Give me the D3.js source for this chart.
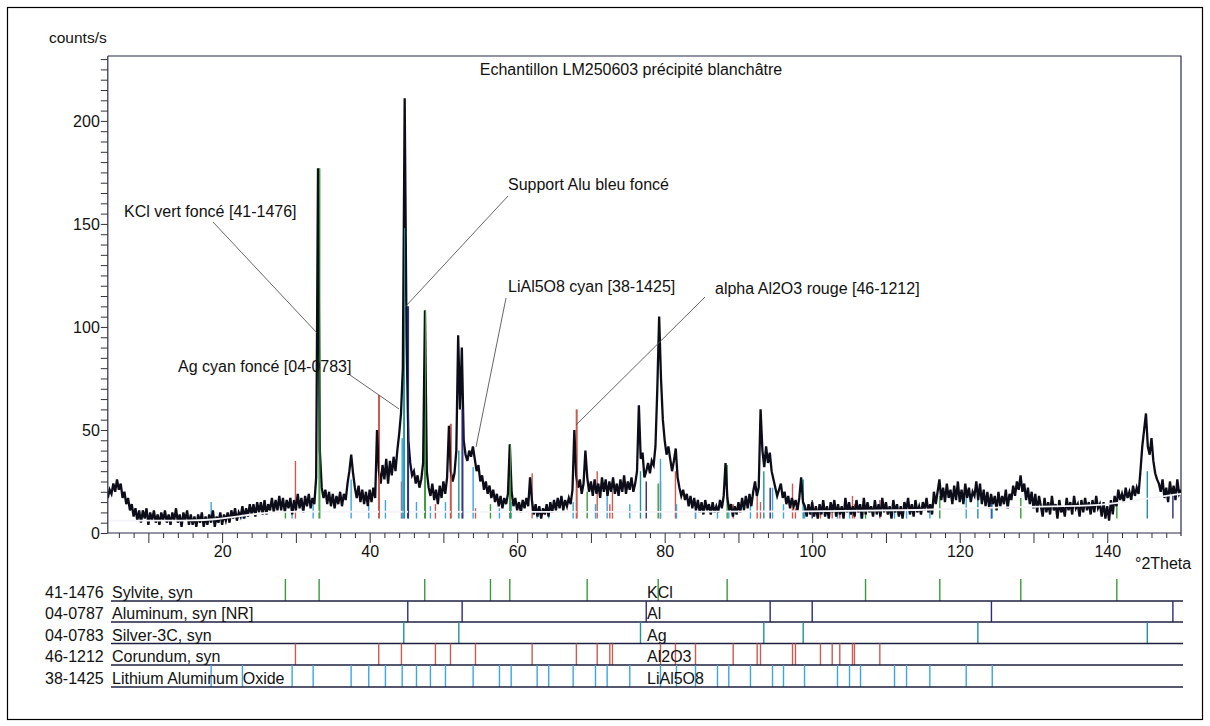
<!DOCTYPE html>
<html>
<head>
<meta charset="utf-8">
<script src="https://cdn.jsdelivr.net/npm/d3@7/dist/d3.min.js"></script>
<style>
  html, body { margin: 0; padding: 0; background: #fff; }
  svg text { font-family: "Liberation Sans", Arial, sans-serif; fill: #111; }
</style>
</head>
<body>
<svg id="chart" width="1210" height="726"></svg>
<script>
// ---------------- DATA ----------------
const chartTitle = "Echantillon LM250603 précipité blanchâtre";
const yTitle = "counts/s";
const xTitle = "°2Theta";

// measured trace: counts/s every 0.25 °2Theta starting at 4.5
const traceStart = 4.5;
const traceStep = 0.25;
const counts = [
  17, 21,                 // 4.5
  19, 24, 20, 26,         // 5
  21, 24, 17, 20,         // 6
  14, 17, 11, 14,         // 7
  8, 12, 6, 11,           // 8
  5, 11, 7, 12,           // 9
  4, 10, 6, 11,           // 10
  5, 9, 4, 10,            // 11
  6, 11, 5, 9,            // 12
  4, 10, 6, 12,           // 13
  5, 9, 3, 10,            // 14
  6, 11, 4, 9,            // 15
  4, 8, 3, 9,             // 16
  5, 10, 3, 8,            // 17
  4, 9, 5, 11,            // 18
  3, 8, 5, 10,            // 19
  4, 9, 6, 10,            // 20
  5, 11, 7, 12,           // 21
  6, 10, 8, 13,           // 22
  7, 12, 8, 14,           // 23
  9, 14, 8, 15,           // 24
  10, 15, 9, 16,          // 25
  9, 14, 11, 17,          // 26
  10, 16, 11, 18,         // 27
  11, 17, 10, 16,         // 28
  12, 17, 9, 16,          // 29
  11, 19, 12, 17,         // 30
  10, 18, 13, 19,         // 31
  12, 17, 14, 27,         // 32
  177, 40, 22, 17,        // 33
  21, 14, 20, 13,         // 34
  19, 12, 18, 14,         // 35
  20, 13, 19, 16,         // 36
  24, 30, 38, 29,         // 37
  22, 17, 23, 15,         // 38
  21, 14, 20, 13,         // 39
  21, 15, 22, 17,         // 40
  50, 30, 24, 33,         // 41
  26, 36, 24, 35,         // 42
  28, 37, 30, 40,         // 43
  48, 58, 80, 211,        // 44
  95, 45, 34, 28,         // 45
  30, 24, 28, 22,         // 46
  26, 34, 108, 30,        // 47
  22, 18, 24, 16,         // 48
  21, 14, 23, 17,         // 49
  25, 19, 27, 52,         // 50
  30, 25, 29, 40,         // 51
  96, 60, 90, 45,         // 52
  38, 35, 40, 37,         // 53
  42, 36, 30, 33,         // 54
  25, 28, 21, 25,         // 55
  19, 23, 17, 21,         // 56
  15, 19, 13, 18,         // 57
  12, 17, 14, 19,         // 58
  43, 20, 13, 17,         // 59
  11, 15, 10, 16,         // 60
  12, 17, 13, 27,         // 61
  16, 9, 14, 8,           // 62
  13, 7, 12, 9,           // 63
  14, 8, 15, 10,          // 64
  16, 11, 17, 12,         // 65
  18, 11, 16, 13,         // 66
  17, 14, 21, 50,         // 67
  28, 22, 26, 19,         // 68
  24, 40, 27, 20,         // 69
  25, 18, 26, 19,         // 70
  24, 17, 27, 20,         // 71
  26, 18, 25, 20,         // 72
  27, 19, 24, 18,         // 73
  26, 20, 28, 19,         // 74
  25, 21, 27, 20,         // 75
  24, 30, 62, 36,         // 76
  39, 27, 30, 34,         // 77
  29, 35, 33, 42,         // 78
  70, 105, 75, 55,        // 79
  45, 38, 42, 36,         // 80
  30, 35, 41, 27,         // 81
  22, 18, 21, 16,         // 82
  19, 13, 18, 12,         // 83
  17, 11, 16, 10,         // 84
  15, 9, 16, 11,          // 85
  14, 9, 15, 10,          // 86
  13, 10, 16, 12,         // 87
  18, 34, 17, 11,         // 88
  14, 8, 13, 9,           // 89
  15, 10, 17, 11,         // 90
  18, 12, 19, 13,         // 91
  20, 25, 18, 22,         // 92
  60, 40, 32, 42,         // 93
  34, 39, 30, 26,         // 94
  22, 18, 21, 24,         // 95
  17, 20, 14, 18,         // 96
  12, 17, 13, 16,         // 97
  11, 17, 27, 15,         // 98
  13, 8, 14, 9,           // 99
  15, 8, 13, 7,           // 100
  14, 9, 16, 8,           // 101
  13, 7, 15, 10,          // 102
  16, 8, 14, 9,           // 103
  13, 7, 17, 10,          // 104
  15, 9, 13, 8,           // 105
  16, 10, 14, 7,          // 106
  17, 9, 15, 10,          // 107
  13, 8, 16, 9,           // 108
  14, 8, 17, 10,          // 109
  15, 9, 13, 7,           // 110
  16, 10, 14, 8,          // 111
  13, 7, 15, 11,          // 112
  17, 9, 14, 8,           // 113
  16, 10, 13, 9,          // 114
  15, 11, 17, 10,         // 115
  14, 9, 20, 14,          // 116
  20, 26, 16, 22,         // 117
  15, 24, 17, 21,         // 118
  14, 23, 16, 25,         // 119
  15, 21, 14, 24,         // 120
  17, 22, 15, 20,         // 121
  18, 25, 16, 24,         // 122
  14, 21, 13, 20,         // 123
  12, 19, 14, 18,         // 124
  11, 20, 13, 18,         // 125
  14, 21, 12, 19,         // 126
  16, 23, 18, 25,         // 127
  21, 28, 20, 24,         // 128
  16, 22, 14, 20,         // 129
  12, 19, 10, 18,         // 130
  13, 8, 17, 10,          // 131
  15, 9, 18, 11,          // 132
  14, 7, 16, 10,          // 133
  13, 8, 17, 11,          // 134
  15, 9, 18, 12,          // 135
  14, 8, 16, 10,          // 136
  17, 11, 15, 9,          // 137
  16, 10, 18, 12,         // 138
  14, 8, 15, 7,           // 139
  13, 6, 16, 9,           // 140
  18, 13, 21, 16,         // 141
  19, 15, 22, 17,         // 142
  20, 16, 23, 18,         // 143
  22, 19, 30, 42,         // 144
  50, 58, 42, 38,         // 145
  46, 35, 29, 26,         // 146
  24, 20, 26, 17,         // 147
  22, 15, 25, 18,         // 148
  23, 16, 26, 19,         // 149
  21                      // 150
];

// fitted background (white line)
const bgTheta = [4.5, 8, 12, 16, 19, 22, 26, 30, 40, 60, 80, 100, 115, 125, 135, 140, 145, 150];
const bgCounts = [6, 6, 6, 6, 6.5, 8, 10, 10.5, 10.3, 10.2, 10.2, 10.5, 11, 12.5, 13, 13.6, 16.5, 19];

// reference patterns: stick positions (°2Theta) and their drawn height in the scan (counts/s)
const phaseCodes = ["41-1476", "04-0787", "04-0783", "46-1212", "38-1425"];
const phaseNames = ["Sylvite, syn", "Aluminum, syn [NR]", "Silver-3C, syn", "Corundum, syn", "Lithium Aluminum Oxide"];
const phaseShort = ["KCl", "Al", "Ag", "Al2O3", "LiAl5O8"];
const phaseColors = ["#3a9a3a", "#2b2a86", "#1f9494", "#cc5a50", "#3aa6e6"];

const kclPos = [28.58, 33.15, 47.47, 56.38, 59.0, 69.49, 79.12, 88.47, 107.23, 117.3, 128.28, 141.3];
const kclTop = [11, 177, 108, 14, 43, 20, 24, 33, 13, 18, 17, 15];
const alPos = [45.17, 52.54, 77.5, 94.3, 100.0, 124.3, 148.9];
const alTop = [110, 60, 25, 22, 16, 15, 18];
const agPos = [44.63, 52.09, 76.72, 93.44, 98.78, 122.46, 145.43];
const agTop = [148, 40, 30, 30, 26, 18, 30];
const al2o3Pos = [29.94, 41.23, 44.31, 48.92, 50.96, 54.35, 62.03, 68.03, 70.85, 72.56, 72.92, 79.43, 81.46,
                  84.18, 89.29, 92.54, 92.99, 97.33, 97.73, 101.12, 102.71, 103.74, 105.46, 105.73, 109.17];
const al2o3Top = [35, 67, 25, 14, 53, 12, 29, 60, 30, 14, 20, 25, 30, 12, 14, 22, 15, 24, 12, 13, 14, 12, 18, 14, 16];
const lialPos = [18.51, 22.75, 29.49, 32.34, 37.49, 39.88, 42.14, 44.41, 46.35, 48.24, 50.28, 54.03, 57.6, 59.19,
                 62.71, 64.28, 67.59, 70.62, 72.2, 75.27, 79.43, 81.6, 84.18, 87.16, 88.69, 91.63, 94.62, 96.11,
                 98.96, 103.43, 105.06, 106.55, 111.16, 112.79, 115.95, 120.88, 124.41];
const lialTop = [15, 13, 12, 14, 26, 14, 16, 46, 15, 13, 15, 32, 12, 15, 12, 12, 15, 14, 20, 14, 36, 14, 12, 12,
                 14, 14, 22, 14, 13, 13, 12, 12, 12, 12, 14, 20, 14];
const phasePos = [kclPos, alPos, agPos, al2o3Pos, lialPos];
const phaseTop = [kclTop, alTop, agTop, al2o3Top, lialTop];
const stickBase = 7;

// annotations
const annTexts = ["KCl vert foncé [41-1476]", "Support Alu bleu foncé", "LiAl5O8 cyan [38-1425]",
                  "alpha Al2O3 rouge [46-1212]", "Ag cyan foncé [04-0783]"];

// axis ticks
const yTicks = d3.range(0, 231, 5);
const yLabels = [0, 50, 100, 150, 200];
const xTicks = d3.range(6, 149, 2);
const xLabels = [20, 40, 60, 80, 100, 120, 140];

// ---------------- DRAW ----------------
const svg = d3.select("#chart");
const font = 16;

const x = d3.scaleLinear().domain([4.5, 150]).range([107.8, 1181]);
const y = d3.scaleLinear().domain([0, 231.5]).range([533, 56]);

// page border
svg.append("rect").attr("x", 7.5).attr("y", 7.5).attr("width", 1195).attr("height", 712)
  .attr("fill", "none").attr("stroke", "#000").attr("stroke-width", 1.2);

// plot frame (top + right)
svg.append("path")
  .attr("d", `M${x(4.5)},${y(231.5)}H${x(150)}V${y(0) + 3}`)
  .attr("fill", "none").attr("stroke", "#2a2a50").attr("stroke-width", 1.2);

// clip
svg.append("clipPath").attr("id", "plotclip").append("rect")
  .attr("x", x(4.5)).attr("y", y(231.5)).attr("width", x(150) - x(4.5)).attr("height", y(0) - y(231.5));

const plot = svg.append("g").attr("clip-path", "url(#plotclip)");

// sticks in main chart (behind trace)
phasePos.forEach((arr, p) => {
  plot.append("g").selectAll("line").data(arr.map((t, i) => [t, phaseTop[p][i]])).join("line")
    .attr("x1", d => x(d[0])).attr("x2", d => x(d[0]))
    .attr("y1", y(stickBase)).attr("y2", d => y(d[1]))
    .attr("stroke", phaseColors[p]).attr("stroke-width", 1.4);
});

// trace
const traceData = counts.map((c, i) => [traceStart + i * traceStep, c]);
plot.append("path")
  .datum(traceData)
  .attr("d", d3.line().x(d => x(d[0])).y(d => y(d[1])))
  .attr("fill", "none").attr("stroke", "#0d0d1a").attr("stroke-width", 2.3)
  .attr("stroke-linejoin", "miter");

// background line
plot.append("path")
  .datum(bgTheta.map((t, i) => [t, bgCounts[i]]))
  .attr("d", d3.line().curve(d3.curveBasis).x(d => x(d[0])).y(d => y(d[1])))
  .attr("fill", "none").attr("stroke", "#f4f4f8").attr("stroke-width", 1.8);

// main colored sticks redrawn thin on top for the tall ones (visible along peaks)
phasePos.forEach((arr, p) => {
  plot.append("g").selectAll("line").data(arr.map((t, i) => [t, phaseTop[p][i]]).filter(d => d[1] > 40)).join("line")
    .attr("x1", d => x(d[0]) + 0.8).attr("x2", d => x(d[0]) + 0.8)
    .attr("y1", y(stickBase)).attr("y2", d => y(d[1]))
    .attr("stroke", phaseColors[p]).attr("stroke-width", 1);
});

// y axis
const yAxis = d3.axisLeft(y).tickValues(yTicks).tickSize(7).tickPadding(1)
  .tickFormat(d => yLabels.includes(d) ? d : "");
const gy = svg.append("g").attr("transform", `translate(${x(4.5)},0)`).call(yAxis);
gy.select(".domain").attr("stroke", "#2a2a50").attr("stroke-width", 1.2)
  .attr("d", `M0,${y(231.5)}V${y(0)}`);
gy.selectAll(".tick line").attr("stroke", "#333");
gy.selectAll(".tick text").attr("font-size", font).attr("font-family", "Liberation Sans, Arial, sans-serif").attr("fill", "#111");

// x axis
const xAxis = d3.axisBottom(x).tickValues(xTicks).tickSize(5).tickPadding(3)
  .tickFormat(d => xLabels.includes(d) ? d : "");
const gx = svg.append("g").attr("transform", `translate(0,${y(0)})`).call(xAxis);
gx.select(".domain").attr("stroke", "#2a2a50").attr("stroke-width", 1.2)
  .attr("d", `M${x(4.5)},0H${x(150)}`);
gx.selectAll(".tick line").attr("stroke", "#333").attr("y2", d => d % 10 === 0 ? 10 : 5);
gx.selectAll(".tick text").attr("y", 13).attr("font-size", font)
  .attr("font-family", "Liberation Sans, Arial, sans-serif").attr("fill", "#111");

// titles
svg.append("text").attr("x", 49).attr("y", 43).attr("font-size", 15.5).text(yTitle);
svg.append("text").attr("x", 631).attr("y", 75).attr("text-anchor", "middle").attr("font-size", font).text(chartTitle);
svg.append("text").attr("x", 1135).attr("y", 569).attr("font-size", font).text(xTitle);

// annotations
const annPos = [[124, 217], [508, 190], [508, 292], [715, 294], [178, 372]];
const annLines = [[[213, 222], [317, 333]], [[508, 196], [405, 307]], [[506, 298], [476, 447]],
                  [[705, 297], [576, 425]], [[350, 375], [399, 409]]];
annTexts.forEach((t, i) => {
  svg.append("text").attr("x", annPos[i][0]).attr("y", annPos[i][1]).attr("font-size", font).text(t);
  svg.append("line")
    .attr("x1", annLines[i][0][0]).attr("y1", annLines[i][0][1])
    .attr("x2", annLines[i][1][0]).attr("y2", annLines[i][1][1])
    .attr("stroke", "#555").attr("stroke-width", 0.9);
});

// reference pattern rows
const rowLineY = [601, 622, 643.5, 665, 687];
const rowX0 = 111, rowX1 = 1183;
phaseCodes.forEach((code, p) => {
  const ly = rowLineY[p];
  const top = p === 0 ? 579 : rowLineY[p - 1];
  svg.append("g").selectAll("line").data(phasePos[p]).join("line")
    .attr("x1", d => x(d)).attr("x2", d => x(d))
    .attr("y1", top).attr("y2", ly)
    .attr("stroke", phaseColors[p]).attr("stroke-width", 1.4);
  svg.append("line").attr("x1", rowX0).attr("x2", rowX1).attr("y1", ly).attr("y2", ly)
    .attr("stroke", "#1e2040").attr("stroke-width", 1.3);
  svg.append("text").attr("x", 45).attr("y", ly - 3).attr("font-size", font).text(code);
  svg.append("text").attr("x", 112).attr("y", ly - 3).attr("font-size", font).text(phaseNames[p]);
  svg.append("text").attr("x", 647).attr("y", ly - 3).attr("font-size", font).text(phaseShort[p]);
});
</script>
</body>
</html>
